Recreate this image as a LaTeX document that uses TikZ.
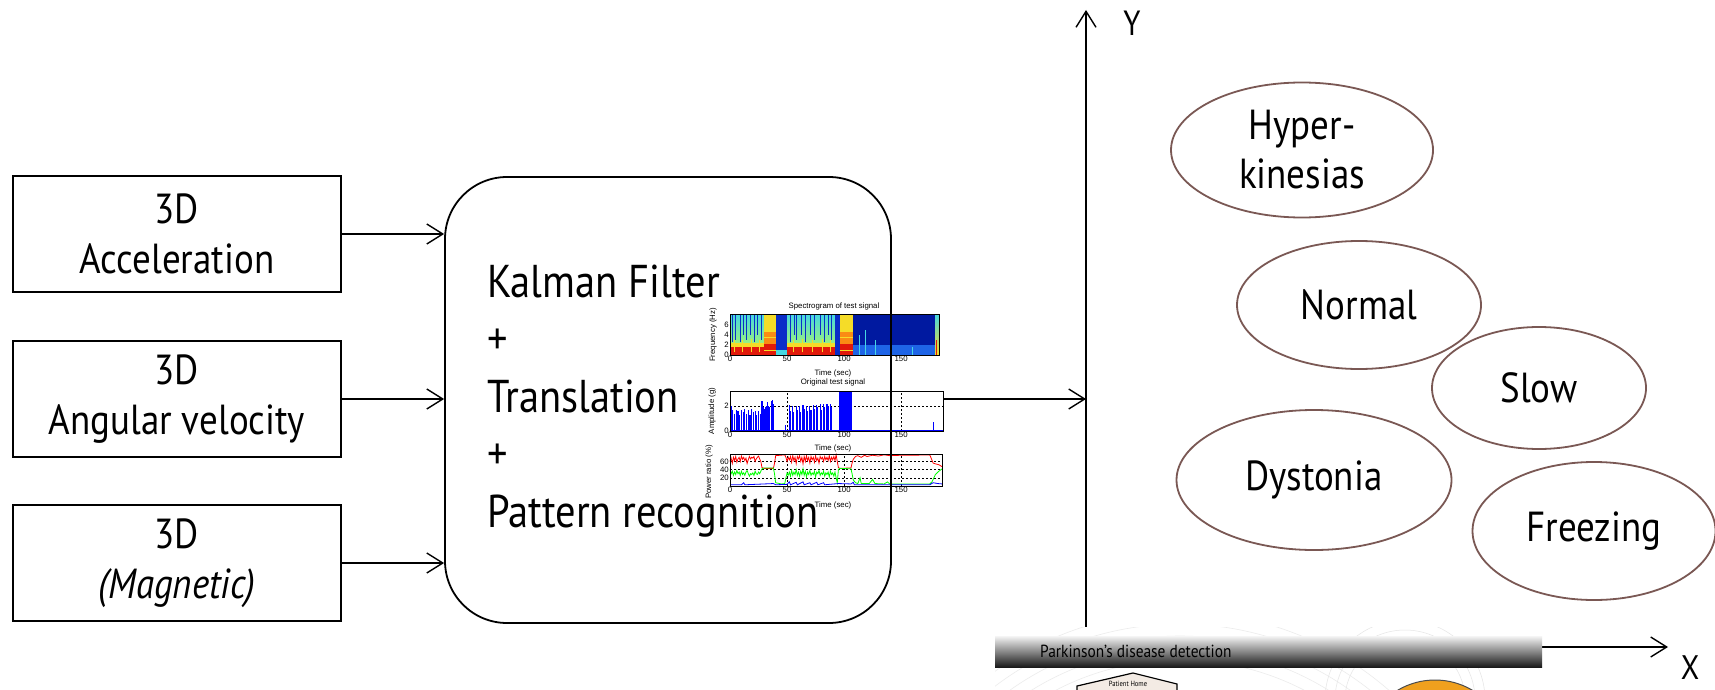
\documentclass[tikz,border=0pt]{standalone}
\usepackage{fontspec}
\setmainfont{PT Sans}[FakeStretch=0.88]
\newfontfamily\plotfont{Liberation Sans}
\usepackage{tikz}
\usetikzlibrary{shapes.geometric,arrows.meta,positioning,calc}

\definecolor{ellbrown}{RGB}{122,88,84}
\definecolor{speccyan}{RGB}{70,215,225}
\definecolor{specgreen}{RGB}{150,240,130}
\definecolor{specblue}{RGB}{10,45,200}
\definecolor{specdeep}{RGB}{0,25,160}
\definecolor{speclight}{RGB}{30,100,230}
\definecolor{specyel}{RGB}{245,220,40}
\definecolor{specorange}{RGB}{250,140,20}
\definecolor{specred}{RGB}{225,25,10}
\definecolor{homefill}{RGB}{243,235,228}
\definecolor{sunorange}{RGB}{240,160,30}

\begin{document}
\begin{tikzpicture}[
    x=1pt, y=-1pt,
    >={Straight Barb[length=16pt,width=20pt]},
    inbox/.style={draw, line width=1.5pt, minimum width=328pt, minimum height=116pt,
        align=center, font=\fontsize{42}{50}\selectfont},
    procbox/.style={draw, line width=1.8pt, rounded corners=62pt,
        minimum width=446pt, minimum height=446pt},
    proctext/.style={anchor=base west, inner sep=0pt, font=\fontsize{46}{55}\selectfont},
    motorstate/.style={ellipse, draw=ellbrown, line width=1.8pt, inner sep=0pt,
        align=center, font=\fontsize{42}{49}\selectfont},
    feed/.style={->, line width=1.4pt},
    ticklbl/.style={font=\plotfont\fontsize{7.8}{8}\selectfont, inner sep=1pt},
    gridline/.style={dash pattern=on 2pt off 2pt, line width=0.6pt},
    axframe/.style={line width=1pt}
]

\useasboundingbox (0,0) rectangle (1715,690);
\fill[white] (0,0) rectangle (1715,690);

% Sensor inputs
\node (acc) at (177,234) [inbox] {3D\\Acceleration};
\node (gyro) at (177,399) [inbox] {3D\\Angular velocity};
\node (magn) at (177,563) [inbox] {3D\\\textit{(Magnetic)}};

% Signal plots (spectrogram)
\begin{scope}[shift={(730,355)}, x=1.141pt, y=5.1pt]
  \shade[bottom color=specgreen, top color=speccyan] (0,2.4) rectangle (30,8);
  \fill[specyel] (0,1.5) rectangle (30,2.4);
  \fill[specred] (0,0) rectangle (30,1.5);
  \fill[specyel] (30,0) rectangle (40,8);
  \fill[specorange] (30,2.2) rectangle (40,4.6);
  \fill[specred] (30,0) rectangle (40,2.2);
  \draw[specyel, line width=0.8pt] (30,1) -- (40,1) (30,3.4) -- (40,3.4);
  \fill[specblue] (40,0) rectangle (50,8);
  \fill[speccyan] (40,0) rectangle (50,1);
  \shade[bottom color=specgreen, top color=speccyan] (50,2.4) rectangle (92,8);
  \fill[specyel] (50,1.5) rectangle (92,2.4);
  \fill[specred] (50,0) rectangle (92,1.5);
  \fill[specblue] (92,0) rectangle (96,8);
  \fill[specyel] (96,0) rectangle (108,8);
  \fill[specorange] (96,2.2) rectangle (108,4.6);
  \fill[specred] (96,0) rectangle (108,2.2);
  \draw[specyel, line width=0.8pt] (96,1) -- (108,1) (96,3.4) -- (108,3.4);
  \fill[specdeep] (108,0) rectangle (180,8);
  \fill[speclight] (108,0) rectangle (180,2);
  \shade[bottom color=specyel, top color=speccyan] (180,0) rectangle (184,8);
  \draw[specred, line width=0.8pt] (181,0) -- (181,3);
  \draw[specblue, line width=0.5pt] (2,2.5) -- (2,8) (5,3) -- (5,8) (9,2.5) -- (9,8)
      (12,4) -- (12,8) (14,3) -- (14,8) (18,4) -- (18,8) (21,2.5) -- (21,8) (24,4) -- (24,8)
      (27,3) -- (27,8) (53,2.5) -- (53,8) (56,4) -- (56,8) (58,3) -- (58,8) (62,4) -- (62,8)
      (66,2.5) -- (66,8) (70,4) -- (70,8) (74,3) -- (74,8) (79,4) -- (79,8) (83,2.5) -- (83,8)
      (86,4) -- (86,8) (89,3) -- (89,8);
  \draw[specyel, line width=0.5pt] (4,0.5) -- (4,3) (11,0.5) -- (11,3) (19,0.5) -- (19,3.2)
      (26,0.5) -- (26,3) (55,0.5) -- (55,3) (63,0.5) -- (63,3.2) (72,0.5) -- (72,3)
      (81,0.5) -- (81,3.2) (88,0.5) -- (88,3);
  \draw[speccyan, line width=0.6pt] (113,0) -- (113,4) (119,0) -- (119,5) (127,0) -- (127,3)
      (141,0) -- (141,2.5) (160,0) -- (160,1.5);
  \draw[axframe] (0,0) rectangle (184,8);
  \node (sx0) [ticklbl, below] at (0,0) {0};
  \node (sx50) [ticklbl, below] at (50,0) {50};
  \node (sx100) [ticklbl, below] at (100,0) {100};
  \node (sx150) [ticklbl, below] at (150,0) {150};
  \node (sy0) [ticklbl, left] at (0,0) {0};
  \node (sy2) [ticklbl, left] at (0,2) {2};
  \node (sy4) [ticklbl, left] at (0,4) {4};
  \node (sy6) [ticklbl, left] at (0,6) {6};
\end{scope}
\node (spectitle) [ticklbl] at (834,306) {Spectrogram of test signal};
\node (spectime) [ticklbl] at (833,373) {Time (sec)};
\node (specylab) [ticklbl, rotate=90] at (713,335) {Frequency (Hz)};

% Signal plots (amplitude)
\begin{scope}[shift={(730,431)}, x=1.141pt, y=12.5pt]
  \draw[gridline] (0,2) -- (187,2) (50,0) -- (50,3.2) (100,0) -- (100,3.2) (150,0) -- (150,3.2);
  \draw[blue, line width=1.1pt] (1,0) -- (1,2.0) (2.5,0) -- (2.5,1.7) (4,0) -- (4,1.4)
      (5.5,0) -- (5.5,1.7) (7,0) -- (7,1.6) (8.5,0) -- (8.5,1.3) (10,0) -- (10,1.7)
      (11.5,0) -- (11.5,1.5) (13,0) -- (13,1.8) (14.5,0) -- (14.5,1.4) (16,0) -- (16,1.7)
      (17.5,0) -- (17.5,1.3) (19,0) -- (19,1.8) (20.5,0) -- (20.5,1.5) (22,0) -- (22,1.6)
      (23.5,0) -- (23.5,1.3) (25,0) -- (25,1.6) (26.5,0) -- (26.5,1.4)
      (28,0) -- (28,2.4) (29,0) -- (29,1.9) (30,0) -- (30,1.8) (31,0) -- (31,1.9)
      (32,0) -- (32,2.0) (33,0) -- (33,2.3) (34,0) -- (34,2.0) (35,0) -- (35,1.9)
      (36,0) -- (36,2.4) (37,0) -- (37,2.5) (38,0) -- (38,2.2) (49,0) -- (49,0.5)
      (52,0) -- (52,2.1) (53,0) -- (53,1.6) (55,0) -- (55,2.0) (56,0) -- (56,1.5)
      (58,0) -- (58,2.0) (59,0) -- (59,1.7) (61,0) -- (61,2.0) (62,0) -- (62,1.5)
      (64,0) -- (64,2.1) (65,0) -- (65,1.8) (67,0) -- (67,2.0) (68,0) -- (68,1.6)
      (70,0) -- (70,2.0) (71,0) -- (71,1.7) (73,0) -- (73,2.1) (74,0) -- (74,1.8)
      (76,0) -- (76,2.1) (77,0) -- (77,1.9) (79,0) -- (79,2.2) (80,0) -- (80,1.7)
      (82,0) -- (82,2.2) (83,0) -- (83,1.9) (85,0) -- (85,2.2) (86,0) -- (86,2.0)
      (88,0) -- (88,2.2) (89,0) -- (89,1.9) (118,0) -- (118,0.1) (178,0) -- (178,0.7);
  \fill[blue] (95.5,0) rectangle (107,3.2);
  \draw[blue, line width=0.8pt] (0,0.04) -- (187,0.04);
  \draw[axframe] (0,0) rectangle (187,3.2);
  \node (ax0) [ticklbl, below] at (0,0) {0};
  \node (ax50) [ticklbl, below] at (50,0) {50};
  \node (ax100) [ticklbl, below] at (100,0) {100};
  \node (ax150) [ticklbl, below] at (150,0) {150};
  \node (ay0) [ticklbl, left] at (0,0) {0};
  \node (ay2) [ticklbl, left] at (0,2) {2};
\end{scope}
\node (amptitle) [ticklbl] at (833,382) {Original test signal};
\node (amptime) [ticklbl] at (833,448) {Time (sec)};
\node (ampylab) [ticklbl, rotate=90] at (712,411) {Amplitude (g)};

% Signal plots (power ratio)
\begin{scope}[shift={(730,486)}, x=1.141pt, y=0.41pt]
  \draw[gridline] (0,20) -- (186,20) (0,40) -- (186,40) (0,60) -- (186,60)
      (50,0) -- (50,78) (100,0) -- (100,78) (150,0) -- (150,78);
  \draw[red, line width=0.8pt] plot coordinates {(0,60) (1,68) (2,55) (3,70) (4,62) (5,72)
      (6,58) (7,66) (8,70) (9,60) (10,73) (11,65) (12,70) (13,62) (14,68) (15,55) (16,64)
      (17,72) (18,66) (19,70) (20,68) (21,72) (22,60) (23,66) (24,70) (25,73) (26,66)
      (27,60) (28,45) (30,43) (38,43) (39,55) (40,74) (48,76) (49,70) (50,60) (51,70)
      (52,64) (53,72) (54,58) (55,74) (56,62) (57,70) (58,55) (59,72) (60,66) (61,74)
      (62,60) (63,70) (64,54) (65,72) (66,60) (67,74) (68,62) (69,70) (70,56) (71,72)
      (72,64) (73,70) (74,58) (75,74) (76,62) (77,68) (78,56) (79,72) (80,66) (81,70)
      (82,60) (83,72) (84,64) (85,70) (86,62) (87,74) (88,60) (89,70) (90,64) (91,72)
      (92,62) (93,76) (94,60) (95,45) (96,43) (106,44) (107,56) (108,65) (110,72) (112,74)
      (115,70) (118,75) (120,72) (125,75) (130,73) (135,76) (140,74) (150,75) (160,75)
      (175,76) (176,70) (178,56) (180,54) (183,52) (186,47)};
  \draw[green, line width=0.8pt] plot coordinates {(0,40) (1,30) (2,36) (3,26) (4,34) (5,28)
      (6,38) (7,30) (8,34) (9,26) (10,36) (11,28) (12,32) (13,26) (14,34) (15,38) (16,30)
      (17,24) (18,30) (19,28) (20,32) (21,26) (22,36) (23,30) (24,28) (25,34) (26,30)
      (27,36) (28,42) (30,44) (38,44) (39,30) (40,8) (45,5) (48,6) (49,20) (50,32) (51,26)
      (52,34) (53,24) (54,38) (55,26) (56,34) (57,28) (58,40) (59,26) (60,34) (61,24)
      (62,36) (63,28) (64,42) (65,26) (66,36) (67,22) (68,34) (69,28) (70,38) (71,26)
      (72,32) (73,28) (74,36) (75,22) (76,34) (77,30) (78,38) (79,26) (80,32) (81,28)
      (82,36) (83,24) (84,32) (85,28) (86,34) (87,22) (88,36) (89,28) (90,32) (91,24)
      (92,34) (93,20) (94,8) (95,40) (96,43) (106,42) (107,30) (108,15) (110,8) (112,6)
      (114,20) (115,6) (122,6) (125,16) (127,6) (135,5) (138,10) (140,5) (160,5) (175,5)
      (177,10) (180,28) (183,36) (186,42)};
  \draw[blue, line width=0.8pt] plot coordinates {(0,3) (10,3) (12,8) (13,3) (30,5) (38,6)
      (40,3) (50,4) (52,10) (53,3) (58,9) (59,3) (64,10) (65,3) (70,8) (71,3) (76,9) (77,3)
      (82,8) (83,3) (95,6) (106,5) (108,9) (109,3) (175,3) (178,8) (182,6) (186,5)};
  \draw[axframe] (0,0) rectangle (186,78);
  \node (px0) [ticklbl, below] at (0,0) {0};
  \node (px50) [ticklbl, below] at (50,0) {50};
  \node (px100) [ticklbl, below] at (100,0) {100};
  \node (px150) [ticklbl, below] at (150,0) {150};
  \node (py20) [ticklbl, left] at (0,20) {20};
  \node (py40) [ticklbl, left] at (0,40) {40};
  \node (py60) [ticklbl, left] at (0,60) {60};
\end{scope}
\node (powtime) [ticklbl] at (833,505) {Time (sec)};
\node (powylab) [ticklbl, rotate=90] at (709,472) {Power ratio (\%)};

% Processing block
\node (proc) at (668,400) [procbox] {};
\node (kalman) at (487,297) [proctext] {Kalman Filter};
\node (plusa) at (487,354) [proctext] {+};
\node (transl) at (487,412) [proctext] {Translation};
\node (plusb) at (487,469) [proctext] {+};
\node (pattern) at (487,527) [proctext] {Pattern recognition};

\draw[feed] (acc.east) -- (acc.east -| proc.west);
\draw[feed] (gyro.east) -- (gyro.east -| proc.west);
\draw[feed] (magn.east) -- (magn.east -| proc.west);

% Feature space
\coordinate (origin) at (1086,647);
\coordinate (ytip) at (1086,10);
\coordinate (xtip) at (1668,647);
\coordinate (plotout) at (943,399);
\draw[feed] (origin) -- (ytip);
\draw[feed] (origin) -- (xtip);
\draw[feed] (plotout) -- (plotout -| origin);
\node (ylab) at (1132,23) [font=\fontsize{35}{35}\selectfont] {Y};
\node (xlab) at (1690,668) [inner sep=0pt, font=\fontsize{34}{34}\selectfont] {X};

\node (hyper) at (1302,150) [motorstate, minimum width=262pt, minimum height=135pt] {Hyper-\\kinesias};
\node (normal) at (1359,305) [motorstate, minimum width=244pt, minimum height=128pt] {Normal};
\node (slow) at (1539,388) [motorstate, minimum width=214pt, minimum height=122pt] {Slow};
\node (dyst) at (1314,480) [motorstate, minimum width=275pt, minimum height=140pt] {Dystonia};
\node (freez) at (1594,531) [motorstate, minimum width=243pt, minimum height=138pt] {Freezing};

% Detection strip
\fill[white] (995,627) rectangle (1542,690);
\begin{scope}
  \clip (995,627) rectangle (1542,690);
  \draw[gray!15, line width=0.6pt] (1180,930) circle (270pt) circle (282pt) circle (294pt)
      circle (306pt) circle (318pt);
  \draw[gray!20, line width=0.5pt] (1405,700) circle (60pt) circle (70pt) circle (80pt);
\end{scope}
\shade[top color=gray!8, middle color=gray!55, bottom color=black!90] (995,636) rectangle (1542,667);
\node (striptitle) at (1040,651) [anchor=west, inner sep=0pt, text=black,
    font=\fontsize{17.5}{17.5}\selectfont] {Parkinson's disease detection};
\filldraw[fill=homefill, line width=1.2pt] (1077,695) -- (1077,686) -- (1133,673)
    -- (1177,684) -- (1177,695);
\node (home) at (1128,684) [inner sep=0pt, font=\fontsize{7.5}{7.5}\selectfont] {Patient Home};
\filldraw[fill=sunorange, draw=black!70, line width=1pt] (1435,753) circle (73pt);

\end{tikzpicture}
\end{document}
